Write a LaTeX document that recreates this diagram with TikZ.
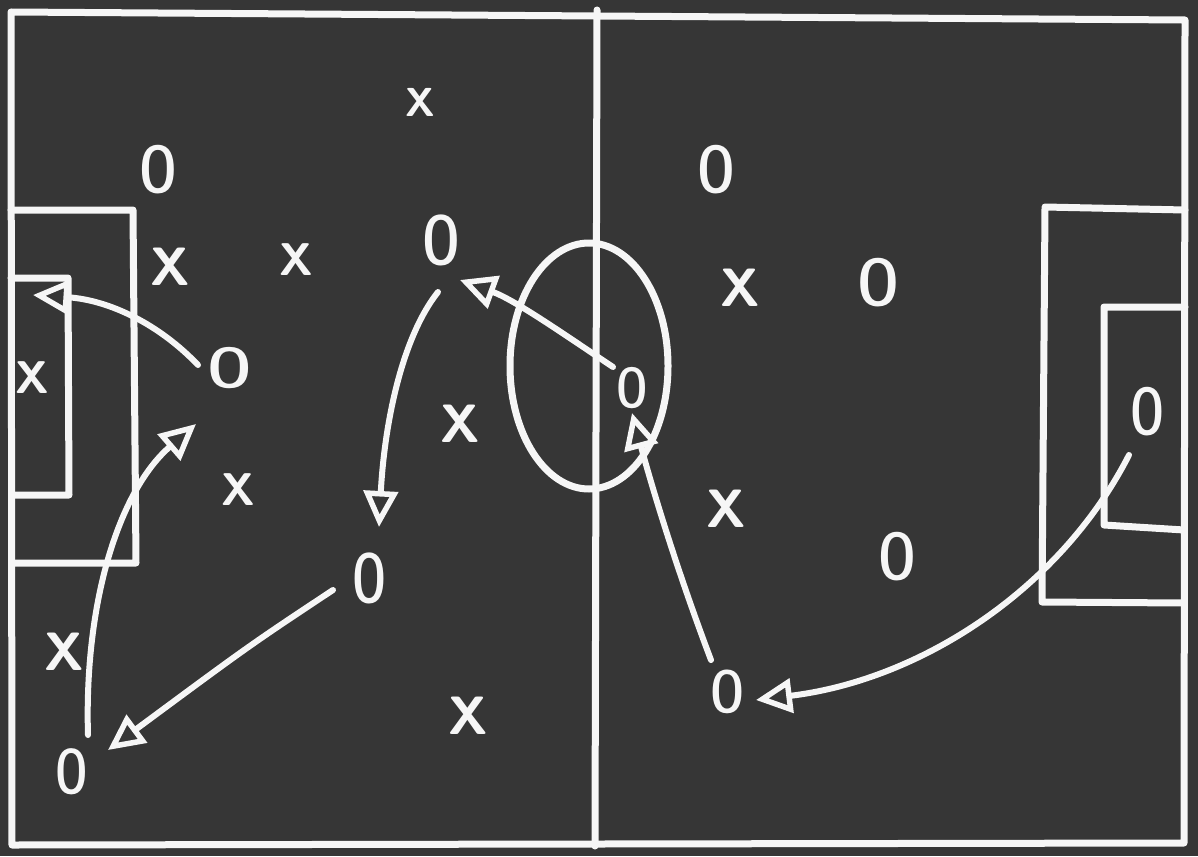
\documentclass[tikz,border=0pt]{standalone}
\usetikzlibrary{arrows.meta}
\definecolor{board}{RGB}{54,54,54}
\definecolor{chalk}{RGB}{246,246,246}
\begin{document}
\begin{tikzpicture}[x=1pt,y=-1pt,
  chalkline/.style={draw=chalk, line width=7pt, line join=round, line cap=round},
  move/.style={draw=chalk, line width=6pt, line cap=round,
    -{Triangle[open,length=36pt,width=34pt,line width=5.5pt]}},
  opl/.style={text=chalk, font=\fontsize{66}{66}\selectfont\sffamily\bfseries, inner sep=0pt},
  xpl/.style={text=chalk, font=\fontsize{54}{54}\selectfont\sffamily\bfseries, inner sep=0pt}]
\fill[board] (0,0) rectangle (1198,856);
\useasboundingbox (0,0) rectangle (1198,856);
% field
\draw[chalkline] (11,12) -- (1185,20) -- (1184,843) -- (12,845) -- cycle;
\draw[chalkline] (597,10) -- (595,846);
\draw[chalkline] (589,366) ellipse [x radius=79, y radius=123];
% left boxes
\draw[chalkline] (11,210) -- (133,210) -- (136,563) -- (12,563);
\draw[chalkline] (11,278) -- (68,278) -- (69,495) -- (12,495);
% right boxes
\draw[chalkline] (1185,210) -- (1045,207) -- (1042,602) -- (1184,603);
\draw[chalkline] (1185,307) -- (1104,307) -- (1104,525) -- (1184,530);
% O players
\node[opl] (o1) at (158,170) {\scalebox{0.72}[1]{O}};
\node[opl] (o2) at (441,240) {\scalebox{0.72}[1.05]{O}};
\node[opl] (o3) at (230,368) {\scalebox{0.85}[0.85]{O}};
\node[opl] (o4) at (370,578) {\scalebox{0.65}[1.05]{O}};
\node[opl] (o5) at (72,772) {\scalebox{0.62}[0.95]{O}};
\node[opl] (o6) at (716,170) {\scalebox{0.72}[1]{O}};
\node[opl] (o7) at (878,283) {\scalebox{0.8}[1]{O}};
\node[opl] (o8) at (632,388) {\scalebox{0.6}[0.85]{O}};
\node[opl] (o9) at (1148,412) {\scalebox{0.65}[1]{O}};
\node[opl] (o10) at (897,557) {\scalebox{0.72}[1]{O}};
\node[opl] (o11) at (728,692) {\scalebox{0.65}[0.9]{O}};
% X players
\node[xpl] (x1) at (420,102) {\scalebox{0.75}{X}};
\node[xpl] (x2) at (170,267) {X};
\node[xpl] (x3) at (296,260) {\scalebox{0.85}{X}};
\node[xpl] (x4) at (32,378) {\scalebox{0.85}{X}};
\node[xpl] (x5) at (460,424) {X};
\node[xpl] (x6) at (238,490) {\scalebox{0.85}{X}};
\node[xpl] (x7) at (64,652) {X};
\node[xpl] (x8) at (468,716) {X};
\node[xpl] (x9) at (740,288) {X};
\node[xpl] (x10) at (726,509) {X};
% arrow end points
\coordinate (a1s) at (198,365); \coordinate (a1e) at (33,295);
\coordinate (a2s) at (88,735);  \coordinate (a2e) at (196,424);
\coordinate (a3s) at (333,590); \coordinate (a3e) at (108,750);
\coordinate (a4s) at (438,292); \coordinate (a4e) at (379,527);
\coordinate (a5s) at (613,367); \coordinate (a5e) at (460,280);
\coordinate (a6s) at (711,660); \coordinate (a6e) at (632,413);
\coordinate (a7s) at (1129,455); \coordinate (a7e) at (756,700);
% runs and passes
\draw[move] (a1s) .. controls (160,325) and (110,300) .. (a1e);
\draw[move] (a2s) .. controls (84,600) and (120,490) .. (a2e);
\draw[move] (a3s) .. controls (250,645) .. (a3e);
\draw[move] (a4s) .. controls (400,340) and (384,430) .. (a4e);
\draw[move] (a5s) .. controls (565,335) and (515,300) .. (a5e);
\draw[move] (a6s) .. controls (675,565) and (650,480) .. (a6e);
\draw[move] (a7s) .. controls (1060,590) and (920,680) .. (a7e);
\end{tikzpicture}
\end{document}
